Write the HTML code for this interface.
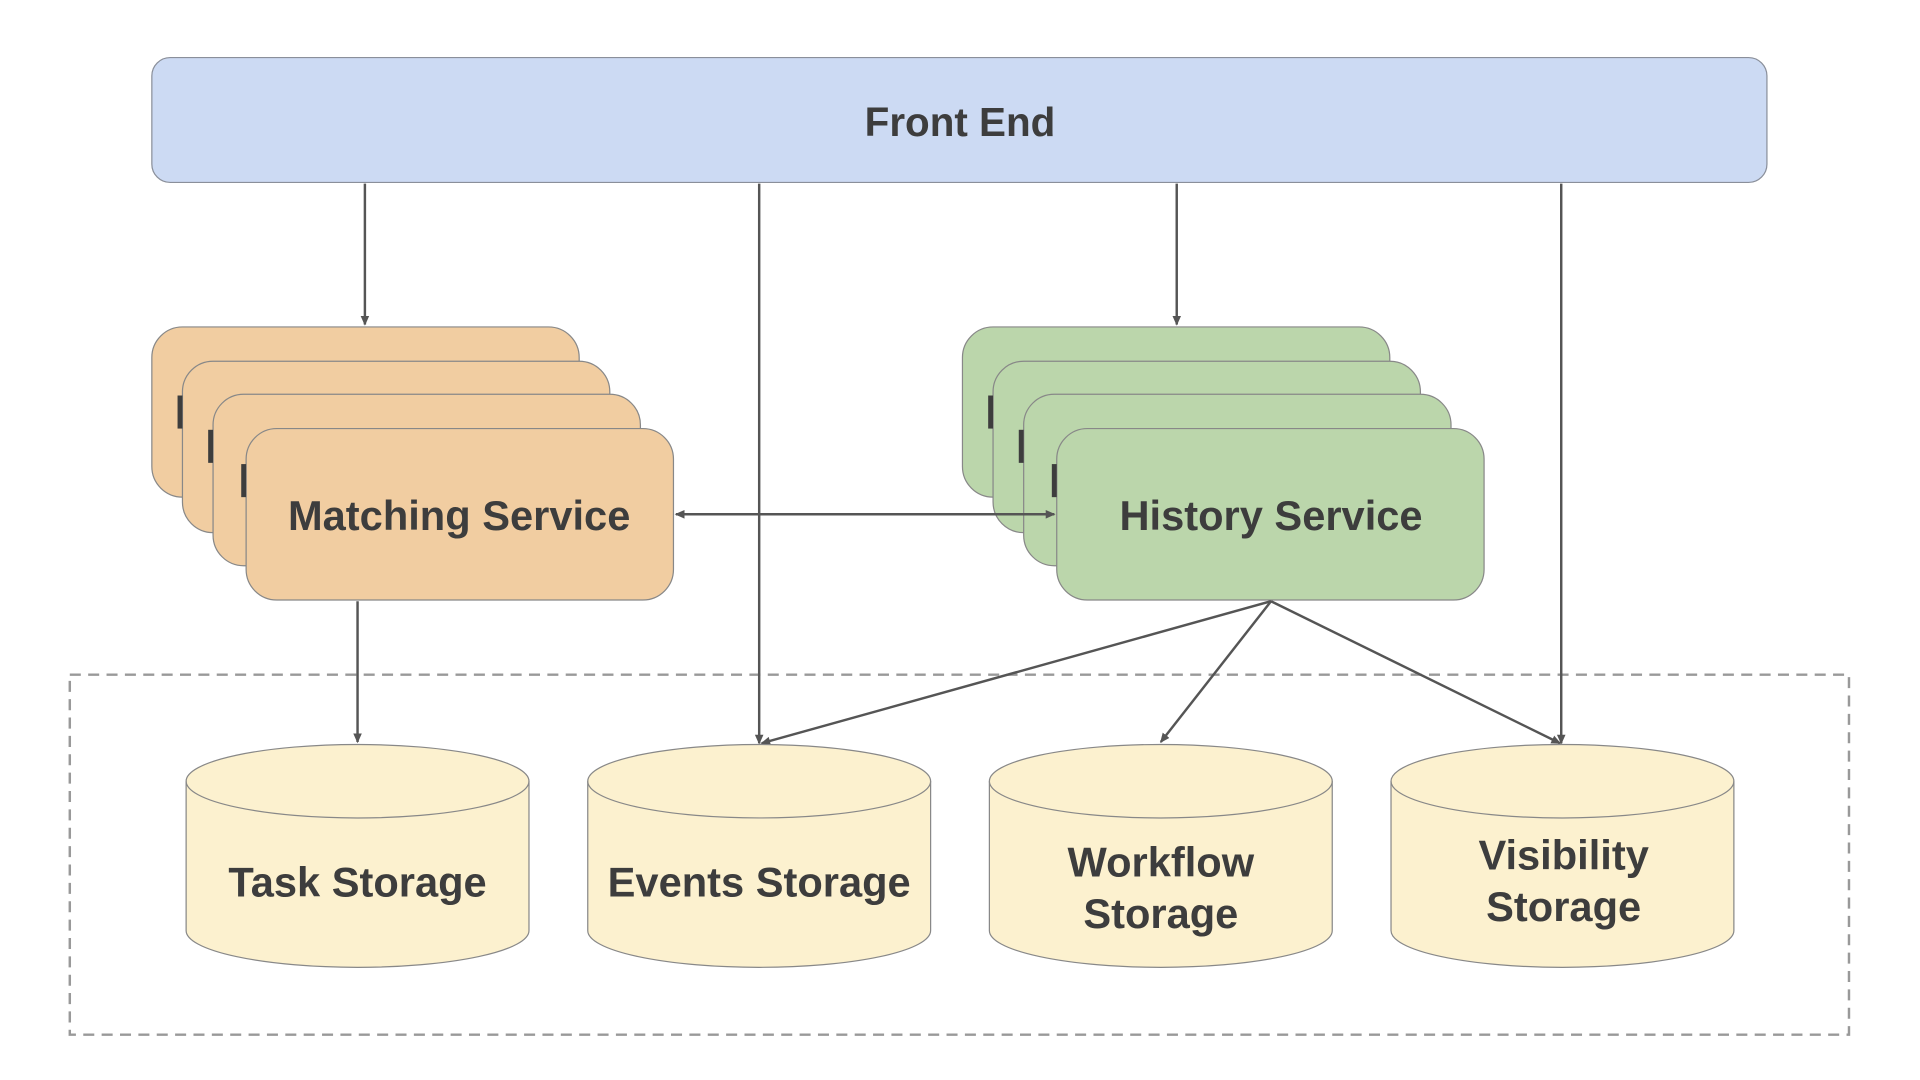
<!DOCTYPE html>
<html><head><meta charset="utf-8"><style>html,body{margin:0;padding:0;background:#fff}svg{display:block}</style></head>
<body>
<svg width="1920" height="1080" viewBox="0 0 1568 882" preserveAspectRatio="none" xmlns="http://www.w3.org/2000/svg" font-family="Liberation Sans, sans-serif" font-weight="bold" fill="#3d3d3d">
<defs>
<marker id="a" markerWidth="8" markerHeight="8" refX="7" refY="4" orient="auto" markerUnits="userSpaceOnUse"><path d="M0,0.5 L8,4 L0,7.5 Z" fill="#555"/></marker>
<marker id="s" markerWidth="8" markerHeight="8" refX="1" refY="4" orient="auto" markerUnits="userSpaceOnUse"><path d="M8,0.5 L0,4 L8,7.5 Z" fill="#555"/></marker>
</defs>
<rect x="57" y="551" width="1453" height="294" fill="none" stroke="#999" stroke-width="2" stroke-dasharray="9,6"/>
<rect x="124" y="47" width="1319" height="102" rx="15" fill="#ccdaf3" stroke="#8a8f9a"/>
<text x="784" y="111" font-size="33" text-anchor="middle">Front End</text>
<g stroke="#888" stroke-width="1">
<rect x="124" y="267" width="349" height="139" rx="25" fill="#f1cda1"/>
<rect x="149" y="295" width="349" height="140" rx="25" fill="#f1cda1"/>
<rect x="174" y="322" width="349" height="140" rx="25" fill="#f1cda1"/>
<rect x="201" y="350" width="349" height="140" rx="25" fill="#f1cda1"/>
<rect x="786" y="267" width="349" height="139" rx="25" fill="#bbd6ab"/>
<rect x="811" y="295" width="349" height="140" rx="25" fill="#bbd6ab"/>
<rect x="836" y="322" width="349" height="140" rx="25" fill="#bbd6ab"/>
<rect x="863" y="350" width="349" height="140" rx="25" fill="#bbd6ab"/>
</g>
<g fill="#3d3d3d">
<rect x="145" y="323" width="4" height="27"/><rect x="170" y="351" width="4" height="27"/><rect x="197" y="379" width="4" height="27"/>
<rect x="807" y="323" width="4" height="27"/><rect x="832" y="351" width="4" height="27"/><rect x="859" y="379" width="4" height="27"/>
</g>
<text x="375" y="433" font-size="34" text-anchor="middle">Matching Service</text>
<text x="1038" y="433" font-size="34" text-anchor="middle">History Service</text>
<g stroke="#555" stroke-width="2" fill="none">
<line x1="298" y1="150" x2="298" y2="265" marker-end="url(#a)"/>
<line x1="961" y1="150" x2="961" y2="265" marker-end="url(#a)"/>
<line x1="620" y1="150" x2="620" y2="607" marker-end="url(#a)"/>
<line x1="1275" y1="150" x2="1275" y2="607" marker-end="url(#a)"/>
<line x1="552" y1="420" x2="861" y2="420" marker-start="url(#s)" marker-end="url(#a)"/>
<line x1="292" y1="491" x2="292" y2="606" marker-end="url(#a)"/>
<line x1="1038" y1="491" x2="622" y2="607" marker-end="url(#a)"/>
<line x1="1038" y1="491" x2="948" y2="606" marker-end="url(#a)"/>
<line x1="1038" y1="491" x2="1274" y2="607" marker-end="url(#a)"/>
</g>
<g stroke="#888" stroke-width="1" fill="#fcf1cf">
<path d="M152,638 A140,30 0 0 1 432,638 L432,760 A140,30 0 0 1 152,760 Z"/><path d="M152,638 A140,30 0 0 0 432,638" fill="none"/>
<path d="M480,638 A140,30 0 0 1 760,638 L760,760 A140,30 0 0 1 480,760 Z"/><path d="M480,638 A140,30 0 0 0 760,638" fill="none"/>
<path d="M808,638 A140,30 0 0 1 1088,638 L1088,760 A140,30 0 0 1 808,760 Z"/><path d="M808,638 A140,30 0 0 0 1088,638" fill="none"/>
<path d="M1136,638 A140,30 0 0 1 1416,638 L1416,760 A140,30 0 0 1 1136,760 Z"/><path d="M1136,638 A140,30 0 0 0 1416,638" fill="none"/>
</g>
<g font-size="34" text-anchor="middle">
<text x="292" y="732">Task Storage</text>
<text x="620" y="732">Events Storage</text>
<text x="948" y="716">Workflow</text><text x="948" y="758">Storage</text>
<text x="1277" y="710">Visibility</text><text x="1277" y="752">Storage</text>
</g>
</svg>
</body></html>
